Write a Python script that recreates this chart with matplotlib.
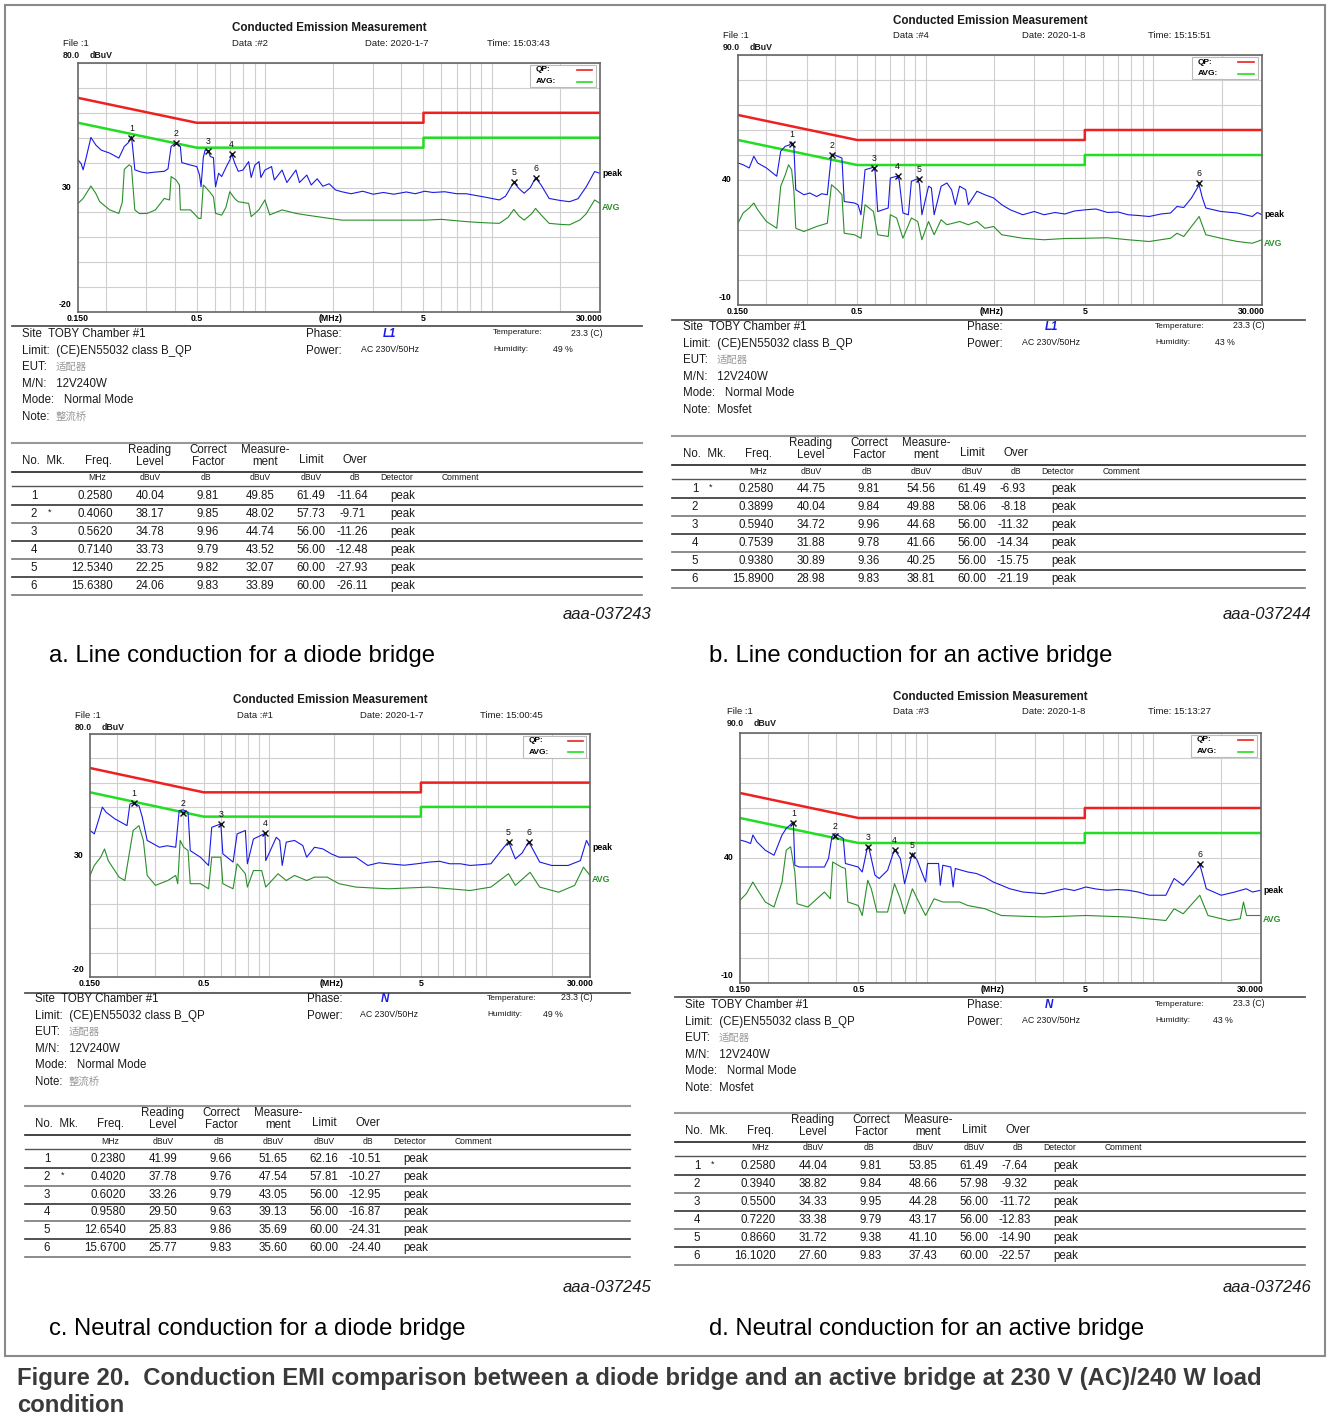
import numpy as np
import matplotlib
matplotlib.use("Agg")
import matplotlib.pyplot as plt
import matplotlib.transforms as mtrans
from matplotlib.patches import Rectangle
from matplotlib.lines import Line2D

W, H = 1328, 1421
plt.rcParams['font.family'] = ['Liberation Sans', 'Noto Sans CJK SC', 'DejaVu Sans']

# ---------------- data ----------------
# EN55032 class B limits
qp_f = [0.15, 0.5, 5, 5, 30]
qp_db = [66, 56, 56, 60, 60]
avg_lim_f = [0.15, 0.5, 5, 5, 30]
avg_lim_db = [56, 46, 46, 50, 50]

grid_f = [0.2, 0.3, 0.4, 0.5, 0.6, 0.7, 0.8, 0.9, 1, 2, 3, 4, 5, 6, 7, 8, 9, 10, 20]

# panel a: line, diode bridge
a_peak_f = [0.150, 0.155, 0.158, 0.163, 0.171, 0.180, 0.190, 0.207, 0.220, 0.227, 0.240, 0.250, 0.258, 0.262,
            0.267, 0.285, 0.303, 0.329, 0.360, 0.374, 0.386, 0.406, 0.424, 0.430, 0.442, 0.470, 0.501, 0.515,
            0.523, 0.535, 0.545, 0.562, 0.575, 0.593, 0.600, 0.606, 0.625, 0.645, 0.673, 0.700, 0.714, 0.735,
            0.763, 0.800, 0.848, 0.870, 0.903, 0.942, 0.960, 1.00, 1.07, 1.10, 1.19, 1.25, 1.37, 1.42, 1.53,
            1.60, 1.70, 1.80, 1.92, 2.05, 2.18, 2.40, 2.70, 3.00, 3.33, 3.70, 4.20, 4.60, 5.06, 5.50, 6.20,
            7.00, 7.71, 8.50, 9.50, 10.8, 11.5, 12.5, 13.2, 13.9, 14.8, 15.6, 16.5, 17.9, 20.0, 22.0, 24.0,
            26.1, 28.4, 30.0]
a_peak_db = [41.1, 39.5, 37.1, 42.0, 50.1, 47.0, 45.0, 43.8, 42.5, 41.8, 46.5, 48.0, 50.5, 45.0,
             37.1, 36.2, 35.8, 36.2, 36.5, 37.5, 46.5, 48.0, 46.4, 40.0, 39.7, 39.0, 38.4, 35.0,
             30.3, 42.0, 45.1, 44.7, 42.4, 42.0, 35.0, 30.3, 35.7, 34.4, 38.0, 41.0, 43.5, 40.0,
             36.5, 37.0, 40.4, 34.0, 39.0, 40.4, 34.0, 37.0, 38.4, 33.0, 37.0, 32.0, 37.0, 32.0, 35.0,
             31.0, 33.5, 30.5, 31.5, 29.0, 28.3, 27.5, 28.5, 27.3, 28.0, 27.3, 28.2, 27.5, 28.5, 28.0, 28.3,
             27.5, 27.5, 26.8, 26.0, 25.0, 26.5, 32.1, 29.5, 27.7, 30.0, 33.9, 31.0, 25.6, 24.8, 24.3, 25.5,
             30.3, 36.4, 35.7]
a_avg_f = [0.150, 0.158, 0.171, 0.180, 0.187, 0.207, 0.227, 0.235, 0.240, 0.252, 0.258, 0.267, 0.280, 0.303,
           0.329, 0.360, 0.380, 0.386, 0.406, 0.420, 0.424, 0.470, 0.510, 0.523, 0.535, 0.545, 0.570, 0.593,
           0.606, 0.645, 0.673, 0.700, 0.735, 0.763, 0.800, 0.848, 0.870, 0.940, 1.00, 1.05, 1.19, 1.37,
           1.53, 1.70, 1.92, 2.18, 2.70, 3.33, 4.00, 5.06, 6.00, 7.71, 9.00, 10.8, 11.8, 12.5, 13.2, 13.9,
           15.0, 15.6, 16.5, 17.9, 20.0, 22.0, 24.5, 26.1, 28.4, 30.0]
a_avg_db = [23.6, 25.6, 30.6, 27.5, 24.3, 21.0, 19.6, 24.0, 37.3, 39.1, 38.4, 21.0, 19.5, 19.6,
            21.0, 25.6, 25.0, 34.4, 33.0, 31.0, 21.0, 21.0, 17.6, 17.6, 31.0, 30.3, 28.3, 26.3,
            19.6, 18.9, 22.0, 28.3, 25.6, 24.3, 24.0, 23.6, 18.3, 21.0, 25.0, 19.0, 21.0, 19.6,
            18.9, 18.3, 17.6, 16.9, 16.9, 16.9, 16.9, 16.9, 17.2, 16.3, 15.9, 15.6, 18.0, 21.2, 18.5, 16.9,
            19.5, 21.6, 19.0, 15.6, 15.2, 15.0, 17.0, 19.5, 25.0, 23.6]
a_mk = ['', '*', '', '', '', '']
a_freq = ['0.2580', '0.4060', '0.5620', '0.7140', '12.5340', '15.6380']
a_read = ['40.04', '38.17', '34.78', '33.73', '22.25', '24.06']
a_corr = ['9.81', '9.85', '9.96', '9.79', '9.82', '9.83']
a_meas = ['49.85', '48.02', '44.74', '43.52', '32.07', '33.89']
a_limit = ['61.49', '57.73', '56.00', '56.00', '60.00', '60.00']
a_over = ['-11.64', '-9.71', '-11.26', '-12.48', '-27.93', '-26.11']

# panel b: line, active bridge
b_peak_f = [0.150, 0.158, 0.168, 0.176, 0.183, 0.200, 0.222, 0.231, 0.242, 0.252, 0.258, 0.264, 0.269, 0.292,
            0.310, 0.332, 0.350, 0.370, 0.386, 0.390, 0.410, 0.429, 0.439, 0.487, 0.505, 0.520, 0.542, 0.590,
            0.600, 0.616, 0.685, 0.700, 0.746, 0.765, 0.795, 0.840, 0.866, 0.923, 0.940, 0.963, 1.03, 1.06,
            1.09, 1.17, 1.24, 1.30, 1.35, 1.41, 1.50, 1.54, 1.68, 1.82, 1.99, 2.16, 2.35, 2.67, 3.00, 3.31,
            3.70, 4.09, 4.50, 5.06, 5.60, 6.30, 7.00, 7.75, 8.60, 9.59, 10.8, 11.9, 12.7, 13.6, 14.7, 15.89,
            16.4, 17.0, 19.8, 23.4, 27.2, 28.6, 30.0]
b_peak_db = [46.8, 46.1, 44.8, 49.5, 46.8, 44.8, 41.5, 51.5, 53.5, 54.0, 55.2, 53.0, 36.1, 34.1,
             34.8, 33.4, 34.5, 34.1, 50.2, 50.4, 49.5, 48.8, 31.4, 30.8, 30.1, 26.1, 44.1, 45.1,
             43.5, 27.4, 28.8, 40.8, 41.5, 40.1, 26.8, 26.1, 39.5, 40.5, 38.0, 26.1, 37.5, 36.8,
             26.1, 37.5, 38.8, 36.1, 30.1, 37.5, 36.1, 30.1, 35.5, 34.1, 32.8, 30.1, 28.1, 26.1, 27.4, 26.1,
             27.0, 26.4, 27.6, 28.1, 28.4, 27.0, 27.2, 26.1, 25.8, 25.4, 26.4, 26.8, 29.4, 29.0, 32.8, 38.0,
             33.0, 28.8, 27.4, 26.8, 25.4, 27.0, 26.1]
b_avg_f = [0.150, 0.158, 0.168, 0.176, 0.183, 0.200, 0.222, 0.231, 0.242, 0.250, 0.258, 0.264, 0.269, 0.292,
           0.332, 0.370, 0.386, 0.410, 0.429, 0.439, 0.487, 0.520, 0.542, 0.590, 0.616, 0.685, 0.700, 0.746,
           0.795, 0.866, 0.923, 0.963, 1.03, 1.09, 1.17, 1.24, 1.41, 1.54, 1.68, 1.82, 1.99, 2.16, 2.67,
           3.31, 4.09, 5.06, 6.30, 7.75, 9.59, 11.9, 12.7, 13.6, 15.89, 17.0, 19.8, 23.4, 27.2, 30.0]
b_avg_db = [22.7, 26.8, 28.8, 30.8, 28.1, 23.4, 20.7, 37.5, 42.1, 46.1, 44.1, 35.5, 20.7, 19.4,
            21.4, 22.7, 38.1, 36.1, 34.1, 18.7, 18.1, 16.7, 30.1, 27.4, 18.1, 17.4, 26.1, 24.8,
            16.7, 24.8, 23.4, 16.1, 23.4, 18.1, 24.1, 22.1, 23.4, 22.1, 23.4, 20.7, 21.4, 18.1, 16.7,
            16.1, 16.6, 16.7, 16.9, 16.1, 15.4, 16.7, 18.7, 17.4, 25.4, 18.1, 16.7, 15.4, 14.7, 16.1]
b_mk = ['*', '', '', '', '', '']
b_freq = ['0.2580', '0.3899', '0.5940', '0.7539', '0.9380', '15.8900']
b_read = ['44.75', '40.04', '34.72', '31.88', '30.89', '28.98']
b_corr = ['9.81', '9.84', '9.96', '9.78', '9.36', '9.83']
b_meas = ['54.56', '49.88', '44.68', '41.66', '40.25', '38.81']
b_limit = ['61.49', '58.06', '56.00', '56.00', '56.00', '60.00']
b_over = ['-6.93', '-8.18', '-11.32', '-14.34', '-15.75', '-21.19']

# panel c: neutral, diode bridge
c_peak_f = [0.150, 0.157, 0.164, 0.171, 0.178, 0.195, 0.222, 0.229, 0.238, 0.252, 0.261, 0.275, 0.313, 0.340,
            0.372, 0.386, 0.402, 0.424, 0.434, 0.483, 0.527, 0.545, 0.600, 0.613, 0.683, 0.713, 0.778, 0.795,
            0.848, 0.958, 0.966, 1.08, 1.12, 1.15, 1.20, 1.31, 1.43, 1.49, 1.62, 1.77, 1.93, 2.10, 2.51,
            2.85, 3.20, 3.54, 4.20, 4.80, 5.46, 6.10, 6.78, 7.60, 8.42, 9.40, 10.5, 11.7, 12.65, 13.6, 14.6,
            15.67, 16.5, 17.6, 20.0, 23.8, 27.1, 28.9, 30.0]
c_peak_db = [40.3, 38.9, 44.4, 49.9, 47.8, 45.1, 42.3, 51.2, 51.6, 50.5, 45.8, 36.2, 33.4, 34.0,
             33.4, 48.5, 48.8, 47.8, 32.0, 29.3, 25.9, 41.6, 43.0, 30.7, 27.3, 38.9, 40.3, 26.6,
             36.8, 39.1, 27.9, 37.5, 36.2, 25.9, 35.5, 36.2, 34.1, 29.3, 33.4, 32.7, 30.7, 29.3, 29.3,
             25.9, 27.0, 26.6, 26.0, 26.6, 27.3, 27.6, 26.6, 26.6, 25.9, 26.2, 26.6, 32.0, 35.7, 28.6, 31.0,
             35.6, 32.0, 27.3, 25.9, 25.9, 27.9, 36.2, 33.4]
c_avg_f = [0.150, 0.157, 0.168, 0.175, 0.182, 0.204, 0.217, 0.226, 0.237, 0.252, 0.264, 0.275, 0.300, 0.342,
           0.372, 0.380, 0.390, 0.405, 0.424, 0.434, 0.483, 0.527, 0.545, 0.600, 0.613, 0.683, 0.713, 0.778,
           0.795, 0.848, 0.925, 0.966, 1.10, 1.20, 1.31, 1.49, 1.62, 1.85, 2.10, 2.51, 3.54, 5.46, 6.78,
           8.42, 10.5, 12.65, 13.6, 15.9, 17.6, 21.5, 25.5, 28.0, 30.0]
c_avg_db = [21.8, 25.9, 29.3, 32.7, 27.9, 21.1, 19.7, 29.3, 40.3, 42.3, 36.2, 21.8, 17.7, 19.7,
            21.8, 18.4, 36.2, 33.4, 32.0, 18.4, 18.4, 16.3, 29.3, 29.3, 18.4, 16.3, 26.6, 22.5,
            17.0, 23.8, 23.8, 17.0, 22.5, 19.7, 21.8, 19.7, 21.1, 21.1, 18.4, 17.0, 16.3, 17.0, 16.3,
            15.6, 17.0, 22.5, 17.7, 23.1, 17.0, 14.9, 17.7, 25.2, 21.8]
c_mk = ['', '*', '', '', '', '']
c_freq = ['0.2380', '0.4020', '0.6020', '0.9580', '12.6540', '15.6700']
c_read = ['41.99', '37.78', '33.26', '29.50', '25.83', '25.77']
c_corr = ['9.66', '9.76', '9.79', '9.63', '9.86', '9.83']
c_meas = ['51.65', '47.54', '43.05', '39.13', '35.69', '35.60']
c_limit = ['62.16', '57.81', '56.00', '56.00', '60.00', '60.00']
c_over = ['-10.51', '-10.27', '-12.95', '-16.87', '-24.31', '-24.40']

# panel d: neutral, active bridge
d_peak_f = [0.150, 0.160, 0.167, 0.171, 0.178, 0.194, 0.212, 0.230, 0.240, 0.251, 0.258, 0.262, 0.274, 0.311,
            0.354, 0.369, 0.382, 0.394, 0.429, 0.438, 0.499, 0.520, 0.550, 0.555, 0.592, 0.618, 0.673, 0.722,
            0.766, 0.800, 0.866, 0.909, 0.990, 1.01, 1.13, 1.15, 1.18, 1.28, 1.31, 1.34, 1.52, 1.66, 1.81,
            1.97, 2.14, 2.33, 2.66, 3.29, 3.70, 4.08, 4.50, 5.06, 5.60, 6.27, 7.00, 7.77, 8.60, 9.62, 11.4,
            12.4, 13.6, 14.8, 16.1, 16.6, 17.2, 20.0, 23.0, 25.8, 27.5, 30.0]
d_peak_db = [47.2, 46.5, 45.8, 49.2, 46.5, 43.1, 41.1, 49.2, 51.8, 53.4, 54.5, 37.1, 36.4, 36.4,
             36.4, 39.8, 48.5, 49.8, 47.8, 37.8, 36.4, 34.4, 45.0, 44.5, 33.1, 31.8, 35.1, 43.5,
             39.8, 29.7, 42.0, 39.1, 30.4, 37.8, 37.8, 29.1, 37.1, 36.4, 28.4, 35.8, 34.4, 33.8, 32.4,
             30.4, 29.1, 27.7, 26.4, 25.7, 26.8, 27.7, 27.0, 28.4, 27.6, 27.1, 27.4, 27.1, 26.4, 25.1, 25.1,
             31.8, 29.1, 33.1, 37.4, 33.0, 27.7, 25.1, 26.4, 27.7, 26.4, 27.1]
d_avg_f = [0.150, 0.160, 0.171, 0.178, 0.194, 0.212, 0.230, 0.240, 0.251, 0.262, 0.268, 0.299, 0.354, 0.376,
           0.385, 0.420, 0.438, 0.449, 0.499, 0.520, 0.550, 0.570, 0.604, 0.673, 0.722, 0.766, 0.800, 0.866,
           0.909, 0.990, 1.08, 1.18, 1.40, 1.52, 1.81, 2.14, 3.29, 5.06, 7.77, 11.4, 12.4, 13.6, 16.1,
           17.5, 21.6, 24.3, 25.1, 25.9, 30.0]
d_avg_db = [23.1, 25.7, 30.4, 27.7, 22.4, 20.4, 30.4, 43.1, 44.5, 34.4, 21.7, 20.4, 26.4, 23.7,
            38.4, 36.4, 35.8, 22.4, 21.0, 17.0, 31.1, 27.7, 18.4, 18.4, 29.7, 23.7, 17.7, 27.7,
            23.7, 17.0, 23.7, 22.4, 22.4, 21.0, 19.7, 17.0, 16.4, 17.0, 16.4, 15.0, 19.7, 17.7, 25.1,
            17.0, 15.0, 15.7, 22.4, 17.0, 17.0]
d_mk = ['*', '', '', '', '', '']
d_freq = ['0.2580', '0.3940', '0.5500', '0.7220', '0.8660', '16.1020']
d_read = ['44.04', '38.82', '34.33', '33.38', '31.72', '27.60']
d_corr = ['9.81', '9.84', '9.95', '9.79', '9.38', '9.83']
d_meas = ['53.85', '48.66', '44.28', '43.17', '41.10', '37.43']
d_limit = ['61.49', '57.98', '56.00', '56.00', '56.00', '60.00']
d_over = ['-7.64', '-9.32', '-11.72', '-12.83', '-14.90', '-22.57']

fig = plt.figure(figsize=(W / 100, H / 100), dpi=100)
fig.patch.set_facecolor('white')

def T(x, y, s, **kw):
    kw.setdefault('va', 'center')
    kw.setdefault('color', '#1a1a1a')
    fig.text(x / W, 1 - y / H, s, **kw)

def hline(x0, x1, y, color='#333333', lw=1.0):
    fig.add_artist(Line2D([x0 / W, x1 / W], [1 - y / H, 1 - y / H], color=color, lw=lw))

def panel(L, meta, ylim, ymid, peak_f, peak_db, avg_f, avg_db, info, mk, freq, read, corr, meas, limit, over):
    l, t, r, b = L['plot']
    ax = fig.add_axes([l / W, 1 - b / H, (r - l) / W, (b - t) / H])
    ax.set_xscale('log')
    ax.set_xlim(0.15, 30)
    ax.set_ylim(ylim[0], ylim[1])
    ax.set_xticks(grid_f)
    ax.set_xticks([], minor=True)
    ax.set_yticks(np.arange(ylim[0], ylim[1] + 1, 10))
    ax.tick_params(length=0, labelbottom=False, labelleft=False)
    ax.grid(True, color='#cfcfcf', lw=0.8)
    for s in ax.spines.values():
        s.set_color('#666666')
        s.set_linewidth(1.2)
    ax.plot(qp_f, qp_db, color='#ee2020', lw=1.8)
    ax.plot(avg_lim_f, avg_lim_db, color='#22dd22', lw=1.8)
    ax.plot(peak_f, peak_db, color='#1a1ae6', lw=0.8)
    ax.plot(avg_f, avg_db, color='#2a8f2a', lw=0.8)
    fm = [float(v) for v in freq]
    mm = [float(v) for v in meas]
    ax.plot(fm, mm, 'x', color='#111111', ms=4, mew=1.0)
    for i, (f, m) in enumerate(zip(fm, mm)):
        ax.annotate(str(i + 1), (f, m), xytext=(0, 5), textcoords='offset points', ha='center',
                    fontsize=6.3, color='#111111')
    # legend box
    ax.add_patch(Rectangle((0.866, 0.903), 0.126, 0.09, transform=ax.transAxes, fc='white',
                           ec='#bbbbbb', lw=0.8, zorder=5))
    ax.text(0.877, 0.972, 'QP:', transform=ax.transAxes, fontsize=6, weight='bold', va='center', zorder=6)
    ax.text(0.877, 0.925, 'AVG:', transform=ax.transAxes, fontsize=6, weight='bold', va='center', zorder=6)
    ax.plot([0.955, 0.985], [0.972, 0.972], color='#ee2020', lw=1.2, transform=ax.transAxes, zorder=6)
    ax.plot([0.955, 0.985], [0.925, 0.925], color='#22dd22', lw=1.2, transform=ax.transAxes, zorder=6)
    ya = mtrans.blended_transform_factory(ax.transAxes, ax.transData)
    ax.text(1.004, peak_db[-1], 'peak', transform=ya, fontsize=6.3, weight='bold', va='center')
    ax.text(1.004, avg_db[-1] - 1.5, 'AVG', transform=ya, fontsize=6.3, weight='bold', va='center',
            color='#2a8f2a')
    # axis labels
    xa = mtrans.blended_transform_factory(ax.transData, ax.transAxes)
    for f, s in [(0.5, '0.5'), (5, '5'), (1.95, '(MHz)')]:
        ax.text(f, -0.025, s, transform=xa, fontsize=6.3, weight='bold', ha='center', va='center')
    ax.text(0.0, -0.025, '0.150', transform=ax.transAxes, fontsize=6.3, weight='bold', ha='center', va='center')
    ax.text(0.98, -0.025, '30.000', transform=ax.transAxes, fontsize=6.3, weight='bold', ha='center', va='center')
    ax.text(-0.012, ymid, str(ymid), transform=ya, fontsize=6.3, weight='bold', ha='right', va='center')
    ax.text(-0.012, ylim[0] + 3, str(ylim[0]), transform=ya, fontsize=6.3, weight='bold', ha='right', va='center')

    # header
    fx, dx, tx, mx = L['meta_x']
    T((l + r) / 2 - 10, L['title_y'], 'Conducted Emission Measurement', fontsize=8.4, weight='bold', ha='center')
    T(fx, L['meta_y'], 'File :1', fontsize=6.8)
    T(dx, L['meta_y'], meta[0], fontsize=6.8)
    T(tx, L['meta_y'], meta[1], fontsize=6.8)
    T(mx, L['meta_y'], meta[2], fontsize=6.8)
    T(fx, L['unit_y'], '%.1f' % ylim[1], fontsize=6.3, weight='bold')
    T(fx + 27, L['unit_y'], 'dBuV', fontsize=6.3, weight='bold')

    # info block
    x0, x1, sy = L['sep']
    hline(x0, x1, sy, color='#555555', lw=1.3)
    ix, iy = L['info_x'], L['info_y0']
    dy = 16.6
    fs = 8.3
    T(ix, iy, 'Site  TOBY Chamber #1', fontsize=fs)
    T(ix, iy + dy, 'Limit:  (CE)EN55032 class B_QP', fontsize=fs)
    T(ix, iy + 2 * dy, 'EUT:', fontsize=fs)
    T(ix + 34, iy + 2 * dy, '适配器', fontsize=7.5, color='#9a9a9a', family=['Noto Sans CJK SC'])
    T(ix, iy + 3 * dy, 'M/N:   12V240W', fontsize=fs)
    T(ix, iy + 4 * dy, 'Mode:   Normal Mode', fontsize=fs)
    T(ix, iy + 5 * dy, 'Note:', fontsize=fs)
    if info['note'] == 'Mosfet':
        T(ix + 34, iy + 5 * dy, 'Mosfet', fontsize=fs)
    else:
        T(ix + 34, iy + 5 * dy, info['note'], fontsize=7.5, color='#9a9a9a', family=['Noto Sans CJK SC'])
    px_ = L['phase_x']
    T(px_, iy, 'Phase:', fontsize=fs)
    T(L['phaseval_x'], iy, info['phase'], fontsize=8.3, color='#1a1ae6', weight='bold', style='italic')
    T(px_, iy + dy, 'Power:', fontsize=fs)
    T(L['powerval_x'], iy + dy - 1, 'AC 230V/50Hz', fontsize=6.3)
    T(L['temp_x'], iy - 1, 'Temperature:', fontsize=6.0)
    T(L['tempval_x'], iy - 1, '23.3 (C)', fontsize=6.3)
    T(L['temp_x'], iy + dy - 1, 'Humidity:', fontsize=6.0)
    T(L['humval_x'], iy + dy - 1, info['hum'], fontsize=6.3)

    # table
    tx0, tx1, tt = L['tab']
    step = L['step']
    hline(tx0, tx1, tt, color='#999999', lw=1.5)
    T(ix, tt + 18, 'No.  Mk.', fontsize=fs)
    T(ix + 76, tt + 18, 'Freq.', fontsize=fs, ha='center')
    for cx, s1, s2 in [(128, 'Reading', 'Level'), (186, 'Correct', 'Factor'), (243, 'Measure-', 'ment')]:
        T(ix + cx, tt + 7, s1, fontsize=fs, ha='center')
        T(ix + cx, tt + 19, s2, fontsize=fs, ha='center')
    T(ix + 289, tt + 17, 'Limit', fontsize=fs, ha='center')
    T(ix + 333, tt + 17, 'Over', fontsize=fs, ha='center')
    hline(tx0, tx1, tt + 29, color='#222222', lw=1.2)
    for cx, s in [(75, 'MHz'), (128, 'dBuV'), (184, 'dB'), (238, 'dBuV'), (289, 'dBuV'), (333, 'dB'),
                  (375, 'Detector'), (438, 'Comment')]:
        T(ix + cx, tt + 35, s, fontsize=6.2, ha='center')
    hline(tx0, tx1, tt + 43, color='#555555', lw=1.0)
    for i in range(len(freq)):
        y = tt + 53 + step * i
        T(ix + 12, y, str(i + 1), fontsize=fs, ha='center')
        T(ix + 28, y - 2, mk[i], fontsize=6.5, ha='center')
        T(ix + 91, y, freq[i], fontsize=fs, ha='right')
        T(ix + 128, y, read[i], fontsize=fs, ha='center')
        T(ix + 186, y, corr[i], fontsize=fs, ha='center')
        T(ix + 238, y, meas[i], fontsize=fs, ha='center')
        T(ix + 289, y, limit[i], fontsize=fs, ha='center')
        T(ix + 330, y, over[i], fontsize=fs, ha='center')
        T(ix + 381, y, 'peak', fontsize=fs, ha='center')
        hline(tx0, tx1, y + 9, color='#333333' if i % 2 == 0 else '#777777', lw=1.2)

    T(L['code'][0], L['code'][1], L['code_s'], fontsize=12, style='italic', ha='right')
    T(L['cap'][0], L['cap'][1], L['cap_s'], fontsize=17.2, color='black')


LA = dict(plot=(78, 63, 600, 312), meta_x=(63, 232, 365, 487), title_y=28, meta_y=43, unit_y=56,
          sep=(12, 642, 326), info_x=22, info_y0=334, phase_x=306, phaseval_x=383, powerval_x=361,
          temp_x=493, tempval_x=571, humval_x=553, tab=(12, 642, 443), step=18,
          code=(651, 614), code_s='aaa-037243', cap=(49, 656), cap_s='a. Line conduction for a diode bridge')
LB = dict(plot=(738, 55, 1262, 305), meta_x=(723, 893, 1022, 1148), title_y=21, meta_y=36, unit_y=48,
          sep=(672, 1305, 320), info_x=683, info_y0=327, phase_x=967, phaseval_x=1045, powerval_x=1022,
          temp_x=1155, tempval_x=1233, humval_x=1215, tab=(672, 1305, 436), step=18,
          code=(1311, 614), code_s='aaa-037244', cap=(709, 656), cap_s='b. Line conduction for an active bridge')
LC = dict(plot=(90, 734, 590, 977), meta_x=(75, 237, 360, 480), title_y=700, meta_y=715, unit_y=727,
          sep=(25, 630, 993), info_x=35, info_y0=999, phase_x=307, phaseval_x=381, powerval_x=360,
          temp_x=487, tempval_x=561, humval_x=543, tab=(25, 630, 1106), step=17.8,
          code=(651, 1287), code_s='aaa-037245', cap=(49, 1329), cap_s='c. Neutral conduction for a diode bridge')
LD = dict(plot=(740, 733, 1261, 983), meta_x=(727, 893, 1022, 1148), title_y=697, meta_y=712, unit_y=724,
          sep=(675, 1305, 997), info_x=685, info_y0=1005, phase_x=967, phaseval_x=1045, powerval_x=1022,
          temp_x=1155, tempval_x=1233, humval_x=1213, tab=(675, 1305, 1113), step=18,
          code=(1311, 1287), code_s='aaa-037246', cap=(709, 1329), cap_s='d. Neutral conduction for an active bridge')

panel(LA, ('Data :#2', 'Date: 2020-1-7', 'Time: 15:03:43'), (-20, 80), 30,
      a_peak_f, a_peak_db, a_avg_f, a_avg_db, dict(note='整流桥', phase='L1', hum='49 %'),
      a_mk, a_freq, a_read, a_corr, a_meas, a_limit, a_over)
panel(LB, ('Data :#4', 'Date: 2020-1-8', 'Time: 15:15:51'), (-10, 90), 40,
      b_peak_f, b_peak_db, b_avg_f, b_avg_db, dict(note='Mosfet', phase='L1', hum='43 %'),
      b_mk, b_freq, b_read, b_corr, b_meas, b_limit, b_over)
panel(LC, ('Data :#1', 'Date: 2020-1-7', 'Time: 15:00:45'), (-20, 80), 30,
      c_peak_f, c_peak_db, c_avg_f, c_avg_db, dict(note='整流桥', phase='N', hum='49 %'),
      c_mk, c_freq, c_read, c_corr, c_meas, c_limit, c_over)
panel(LD, ('Data :#3', 'Date: 2020-1-8', 'Time: 15:13:27'), (-10, 90), 40,
      d_peak_f, d_peak_db, d_avg_f, d_avg_db, dict(note='Mosfet', phase='N', hum='43 %'),
      d_mk, d_freq, d_read, d_corr, d_meas, d_limit, d_over)

# outer frame and figure title
fig.add_artist(Rectangle((5 / W, 1 - 1356 / H), 1320 / W, 1351 / H, transform=fig.transFigure,
                         fill=False, ec='#8a8a8a', lw=1.5))
T(17, 1378, 'Figure 20.  Conduction EMI comparison between a diode bridge and an active bridge at 230 V (AC)/240 W load',
  fontsize=17.2, weight='bold', color='#3a3a3a')
T(17, 1406, 'condition', fontsize=17.2, weight='bold', color='#3a3a3a')

fig.savefig('out.png', dpi=100)
